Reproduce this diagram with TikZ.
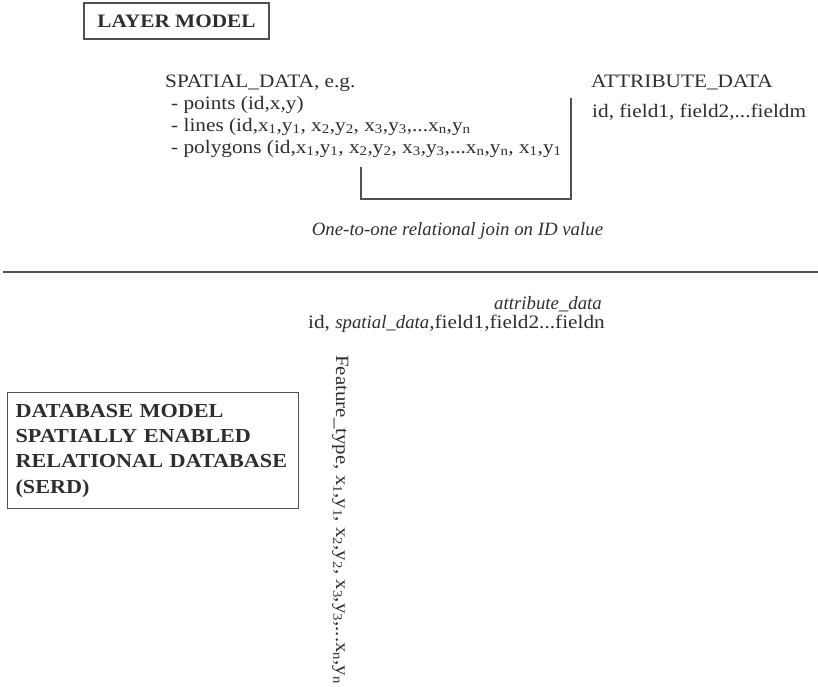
\documentclass[tikz,border=0pt]{standalone}
\usepackage{fontspec}
\setmainfont{Liberation Serif}[FakeStretch=1.12]
\newfontfamily\itserif{Liberation Serif}
\definecolor{ink}{HTML}{2E2E2E}
\definecolor{rule}{HTML}{505050}
\newcommand{\sbs}[1]{\textsubscript{#1}}
\newcommand{\itx}[1]{{\itserif\itshape\fontsize{18.8}{22}\selectfont #1}}
\begin{document}
\begin{tikzpicture}[x=1pt,y=-1pt,
  txt/.style={inner sep=0pt,text=ink,font=\fontsize{19}{22}\selectfont},
  ttl/.style={draw=rule,line width=1.2pt,inner sep=0pt,text=ink,font=\fontsize{19}{25.3}\selectfont\bfseries},
  conn/.style={draw=rule,line width=1.4pt}]
\useasboundingbox (0,0) rectangle (818,686);
\fill[white] (0,0) rectangle (818,686);
% layer model
\node[ttl,minimum width=185pt,minimum height=36pt] (layer) at (176.5,21) {LAYER MODEL};
\node[txt,anchor=base west] (sp) at (165,87) {SPATIAL\_DATA, e.g.};
\node[txt,anchor=base west] (pts) at (171,109) {- points (id,x,y)};
\node[txt,anchor=base west] (lns) at (171,131) {- lines (id,x\sbs{1},y\sbs{1}, x\sbs{2},y\sbs{2}, x\sbs{3},y\sbs{3},...x\sbs{n},y\sbs{n}};
\node[txt,anchor=base west] (pol) at (171,153) {- polygons (id,x\sbs{1},y\sbs{1}, x\sbs{2},y\sbs{2}, x\sbs{3},y\sbs{3},...x\sbs{n},y\sbs{n}, x\sbs{1},y\sbs{1}};
\node[txt,anchor=base west] (att) at (591,87) {ATTRIBUTE\_DATA};
\node[txt,anchor=base west] (fld) at (592,117) {id, field1, field2,...fieldm};
\coordinate (bA) at (571,98);
\coordinate (bC) at (361,199);
\coordinate (bD) at (361,167);
\draw[conn] (bA) |- (bC) -- (bD);
\node[txt,anchor=base] (join) at (457.5,235) {\itx{One-to-one relational join on ID value}};
\coordinate (sepL) at (3,272);
\coordinate (sepR) at (818,272);
\draw[draw=rule,line width=2.2pt] (sepL) -- (sepR);
% database model
\node[txt,anchor=base east] (adat) at (602,309) {\itx{attribute\_data}};
\node[txt,anchor=base east] (row) at (605,328) {id, \itx{spatial\_data},field1,field2...fieldn};
\node[txt,rotate=-90,anchor=base west,font=\fontsize{18.7}{22}\selectfont] (feat) at (336,355) {Feature\_type, x\sbs{1},y\sbs{1}, x\sbs{2},y\sbs{2}, x\sbs{3},y\sbs{3},...x\sbs{n},y\sbs{n}};
\node[ttl,anchor=north west,minimum width=291pt,minimum height=116pt,align=left,text width=275pt,font=\fontsize{19.8}{25.3}\selectfont\bfseries] (db) at (7,392) {DATABASE MODEL\\SPATIALLY ENABLED\\RELATIONAL DATABASE\\(SERD)};
\end{tikzpicture}
\end{document}
